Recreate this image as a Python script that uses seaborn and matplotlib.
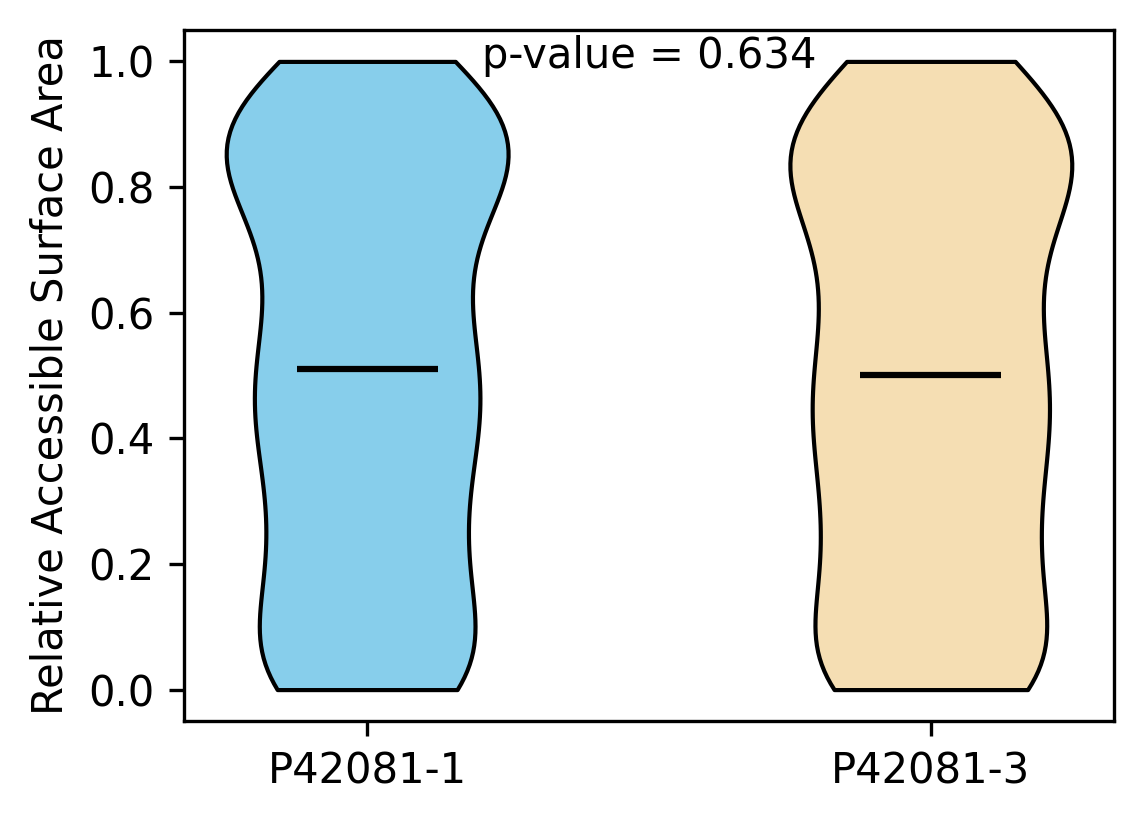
import numpy as np
import pandas as pd
import matplotlib
matplotlib.use("Agg")
import matplotlib.pyplot as plt
import seaborn as sns

# Relative ASA per residue, stored as levels + number of residues at each level
isoforms = ["P42081-1", "P42081-3"]
colores = ["#87CEEB", "#F5DEB3"]

niveles_1 = [0.00, 0.05, 0.10, 0.15, 0.20, 0.25, 0.30, 0.35, 0.40, 0.45, 0.51,
             0.55, 0.60, 0.65, 0.70, 0.75, 0.80, 0.85, 0.90, 0.95, 1.00]
conteos_1 = [32, 12, 13, 13, 12, 12, 12, 12, 13, 21, 13,
             13, 12, 11, 12, 13, 13, 32, 21, 11, 20]

niveles_3 = [0.00, 0.05, 0.10, 0.15, 0.20, 0.25, 0.30, 0.35, 0.40, 0.45, 0.50,
             0.55, 0.60, 0.65, 0.70, 0.75, 0.80, 0.85, 0.90, 0.95, 1.00]
conteos_3 = [31, 12, 12, 12, 12, 12, 12, 12, 13, 17, 13,
             12, 12, 11, 12, 13, 13, 30, 15, 8, 19]

p_value = 0.634

rsa_1 = np.repeat(niveles_1, conteos_1)
rsa_3 = np.repeat(niveles_3, conteos_3)

df = pd.DataFrame({
    "isoform": [isoforms[0]] * len(rsa_1) + [isoforms[1]] * len(rsa_3),
    "rsa": np.concatenate([rsa_1, rsa_3]),
})

fig, ax = plt.subplots(figsize=(1144 / 300, 824 / 300), dpi=300)
fig.subplots_adjust(left=0.1608, right=0.9738, top=0.9636, bottom=0.125)

sns.violinplot(data=df, x="isoform", y="rsa", hue="isoform", order=isoforms,
               palette=colores, saturation=1, legend=False, inner=None, cut=0,
               width=0.5, density_norm="width", bw_method="scott",
               linewidth=1.0, linecolor="black", ax=ax)

# median lines
for i, vals in enumerate([rsa_1, rsa_3]):
    med = np.median(vals)
    ax.hlines(med, i - 0.125, i + 0.125, color="black", linewidth=1.5)

ax.text(0.5, 0.99, f"p-value = {p_value}", ha="center", va="baseline", fontsize=10)

ax.set_xlim(-0.325, 1.325)
ax.set_ylim(-0.05, 1.05)
ax.set_xlabel("")
ax.set_ylabel("Relative Accessible Surface Area")

plt.savefig("out.png", dpi=300)
